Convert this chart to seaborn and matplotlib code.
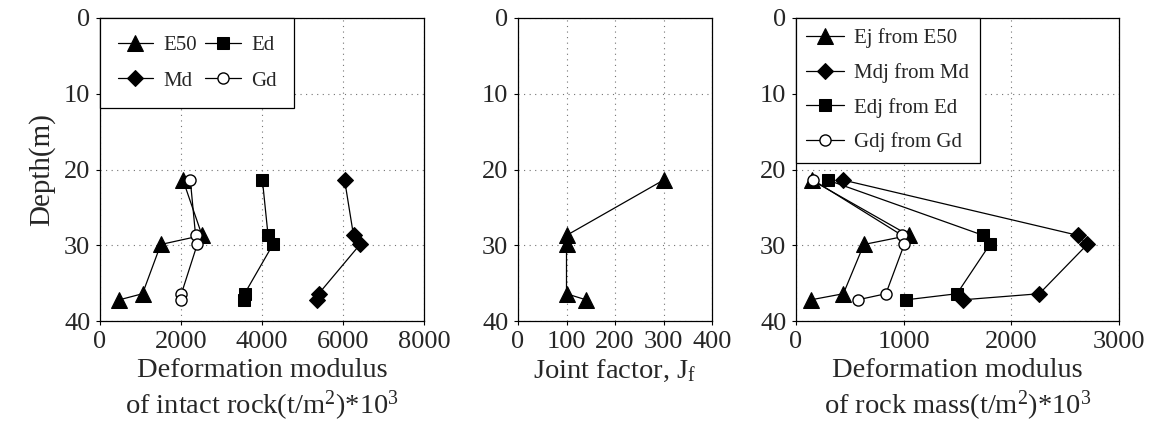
import matplotlib
matplotlib.use("Agg")
import matplotlib.pyplot as plt
import seaborn as sns
import pandas as pd

# ---- data ----
depth = [21.4, 28.7, 29.9, 36.4, 37.2]

# Panel 1: intact rock deformation modulus
E50 = [2050, 2520, 1500, 1050, 480]
Ed = [4010, 4150, 4270, 3570, 3560]
Md = [6040, 6260, 6420, 5400, 5360]
Gd = [2230, 2360, 2400, 2010, 2000]

# Panel 2: joint factor
Jf = [300, 100, 100, 100, 140]

# Panel 3: rock mass deformation modulus
Ej = [145, 1050, 630, 440, 140]
Mdj = [440, 2620, 2705, 2260, 1550]
Edj = [295, 1740, 1800, 1495, 1025]
Gdj = [160, 985, 1005, 835, 575]

xticks1 = [0, 2000, 4000, 6000, 8000]
xticks2 = [0, 100, 200, 300, 400]
xticks3 = [0, 1000, 2000, 3000]
yticks = [0, 10, 20, 30, 40]

sns.set_style("ticks")
plt.rcParams["font.family"] = ["Liberation Serif", "DejaVu Serif"]
plt.rcParams["mathtext.fontset"] = "custom"
plt.rcParams["mathtext.rm"] = "Liberation Serif"
plt.rcParams["mathtext.it"] = "Liberation Serif:italic"

fig = plt.figure(figsize=(11.57, 4.43), dpi=100)
bottom = 1 - 321 / 443
height = (321 - 18) / 443
ax1 = fig.add_axes([100 / 1157, bottom, 324 / 1157, height])
ax2 = fig.add_axes([518 / 1157, bottom, 194 / 1157, height])
ax3 = fig.add_axes([796 / 1157, bottom, 323 / 1157, height])

styles = {
    "tri": dict(marker="^", markersize=11, markerfacecolor="black", markeredgecolor="black"),
    "sq": dict(marker="s", markersize=9, markerfacecolor="black", markeredgecolor="black"),
    "dia": dict(marker="D", markersize=8, markerfacecolor="black", markeredgecolor="black"),
    "circ": dict(marker="o", markersize=8, markerfacecolor="white", markeredgecolor="black", markeredgewidth=1),
}


def draw(ax, vals, label, st):
    df = pd.DataFrame({"x": vals, "y": depth})
    sns.lineplot(data=df, x="x", y="y", sort=False, estimator=None, color="black",
                 linewidth=0.9, label=label, ax=ax, **styles[st])


draw(ax1, E50, "E50", "tri")
draw(ax1, Md, "Md", "dia")
draw(ax1, Ed, "Ed", "sq")
draw(ax1, Gd, "Gd", "circ")

draw(ax2, Jf, None, "tri")

draw(ax3, Ej, "Ej from E50", "tri")
draw(ax3, Mdj, "Mdj from Md", "dia")
draw(ax3, Edj, "Edj from Ed", "sq")
draw(ax3, Gdj, "Gdj from Gd", "circ")

for ax, xt in [(ax1, xticks1), (ax2, xticks2), (ax3, xticks3)]:
    ax.set_xlim(xt[0], xt[-1])
    ax.set_ylim(40, 0)
    ax.set_xticks(xt)
    ax.set_yticks(yticks)
    ax.grid(True, color="0.45", linestyle=(0, (1, 4)), linewidth=0.8)
    ax.tick_params(labelsize=19, length=3, width=0.8, color="black", pad=4)
    for s in ax.spines.values():
        s.set_color("black")
        s.set_linewidth(0.9)
    ax.set_ylabel("")

ax1.set_ylabel("Depth(m)", fontsize=21, labelpad=6)
ax1.set_xlabel("Deformation modulus\nof intact rock(t/m$^2$)*10$^3$", fontsize=20.5, labelpad=4)
ax2.set_xlabel("Joint factor, J$_\\mathrm{f}$", fontsize=20.5, labelpad=4)
ax3.set_xlabel("Deformation modulus\nof rock mass(t/m$^2$)*10$^3$", fontsize=20.5, labelpad=4)
if ax2.get_legend():
    ax2.get_legend().remove()

leg1 = ax1.legend(ncol=2, loc="upper left", bbox_to_anchor=(0, 1), borderaxespad=0,
                  fontsize=15, frameon=True, fancybox=False, edgecolor="black",
                  handlelength=1.7, columnspacing=0.4, handletextpad=0.5,
                  labelspacing=0.76, borderpad=0.84)
leg1.get_frame().set_linewidth(0.9)
leg1.get_frame().set_alpha(1)

leg3 = ax3.legend(loc="upper left", bbox_to_anchor=(0, 1), borderaxespad=0,
                  fontsize=15, frameon=True, fancybox=False, edgecolor="black",
                  handlelength=1.8, handletextpad=0.5, labelspacing=0.71, borderpad=0.5)
leg3.get_frame().set_linewidth(0.9)
leg3.get_frame().set_alpha(1)

fig.savefig("out.png", dpi=100)
